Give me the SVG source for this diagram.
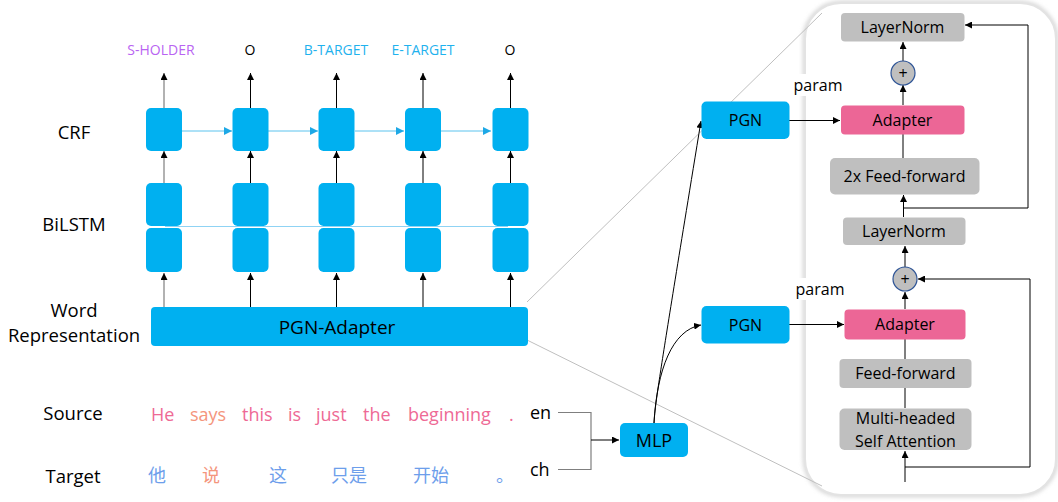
<svg xmlns="http://www.w3.org/2000/svg" width="1058" height="502" viewBox="0 0 1058 502">
<defs>
<marker id="ah" viewBox="0 0 10 10" refX="10" refY="5" markerWidth="7" markerHeight="7" markerUnits="userSpaceOnUse" orient="auto"><path d="M0,0 L10,5 L0,10 z" fill="#000"/></marker>
<marker id="ahg" viewBox="0 0 10 10" refX="10" refY="5" markerWidth="7" markerHeight="7" markerUnits="userSpaceOnUse" orient="auto"><path d="M0,0 L10,5 L0,10 z" fill="#000"/></marker>
<marker id="ahb" viewBox="0 0 10 10" refX="10" refY="5" markerWidth="8" markerHeight="8" markerUnits="userSpaceOnUse" orient="auto"><path d="M0,0 L10,5 L0,10 z" fill="#1DA8E6"/></marker>
<filter id="sh" x="-10%" y="-10%" width="120%" height="120%"><feGaussianBlur stdDeviation="2"/></filter>
</defs>
<style>
text{font-family:"Open Sans","Noto Sans",sans-serif;fill:#000;}
.cell{fill:#00B0F0;}
.gbox{fill:#BFBFBF;}
.pbox{fill:#EC6696;}
.ln{stroke:#000;stroke-width:1;fill:none;}
.zoomln{stroke:#BFBFBF;stroke-width:1;fill:none;}
.lbl{font-size:18.5px;text-anchor:middle;}
.tag{font-size:14px;text-anchor:middle;}
.bx{font-size:16px;text-anchor:middle;}
.w{font-size:18px;}
.cjk{font-family:"Noto Sans CJK SC",sans-serif;}
.pink{fill:#EE6A95;}
.salmon{fill:#F4957C;}
.blue{fill:#6D9EEB;}
</style>

<!-- zoom panel -->
<g id="panel">
<rect x="805" y="3" width="251" height="492" rx="36" fill="none" stroke="#d0d0d0" stroke-width="4" filter="url(#sh)"/>
<rect x="805" y="3" width="251" height="492" rx="36" fill="#fff" stroke="#e3e3e3" stroke-width="2"/>
</g>

<!-- row labels -->
<g id="labels">
<text class="lbl" x="74" y="139">CRF</text>
<text class="lbl" x="74" y="231">BiLSTM</text>
<text class="lbl" x="74" y="317">Word</text>
<text class="lbl" x="74" y="342">Representation</text>
<text class="lbl" x="73" y="420">Source</text>
<text class="lbl" x="73" y="483">Target</text>
</g>

<!-- output tags -->
<g id="tags">
<text class="tag" x="161" y="55" style="fill:#B964F2">S-HOLDER</text>
<text class="tag" x="250" y="55">O</text>
<text class="tag" x="336" y="55" style="fill:#1FB2EE">B-TARGET</text>
<text class="tag" x="423" y="55" style="fill:#1FB2EE">E-TARGET</text>
<text class="tag" x="510" y="55">O</text>
</g>

<g id="connectors">
<!-- zoom lines -->
<line class="zoomln" x1="527" y1="302" x2="822" y2="13"/>
<line class="zoomln" x1="527" y1="340" x2="822" y2="486"/>
<!-- BiLSTM link line -->
<line x1="165" y1="226.5" x2="508" y2="226.5" stroke="#8FD3F4" stroke-width="1"/>
<!-- CRF horizontal -->
<g stroke="#5BC3EE" stroke-width="1" fill="none">
<line x1="182" y1="131" x2="232" y2="131" marker-end="url(#ahb)"/>
<line x1="268" y1="131" x2="318" y2="131" marker-end="url(#ahb)"/>
<line x1="355" y1="131" x2="404" y2="131" marker-end="url(#ahb)"/>
<line x1="441" y1="131" x2="491" y2="131" marker-end="url(#ahb)"/>
</g>
<!-- vertical arrows col 1 (gray) -->
<g stroke="#999" stroke-width="1.5">
<line x1="164" y1="108" x2="164" y2="73" marker-end="url(#ahg)"/>
<line x1="164" y1="183" x2="164" y2="151" marker-end="url(#ahg)"/>
<line x1="164" y1="307" x2="164" y2="273" marker-end="url(#ahg)"/>
</g>
<g class="ln">
<line x1="250.5" y1="108" x2="250.5" y2="73" marker-end="url(#ah)"/>
<line x1="336.5" y1="108" x2="336.5" y2="73" marker-end="url(#ah)"/>
<line x1="423" y1="108" x2="423" y2="73" marker-end="url(#ah)"/>
<line x1="510.5" y1="108" x2="510.5" y2="73" marker-end="url(#ah)"/>
<line x1="250.5" y1="183" x2="250.5" y2="151" marker-end="url(#ah)"/>
<line x1="336.5" y1="183" x2="336.5" y2="151" marker-end="url(#ah)"/>
<line x1="423" y1="183" x2="423" y2="151" marker-end="url(#ah)"/>
<line x1="510.5" y1="183" x2="510.5" y2="151" marker-end="url(#ah)"/>
<line x1="250.5" y1="307" x2="250.5" y2="273" marker-end="url(#ah)"/>
<line x1="336.5" y1="307" x2="336.5" y2="273" marker-end="url(#ah)"/>
<line x1="423" y1="307" x2="423" y2="273" marker-end="url(#ah)"/>
<line x1="510.5" y1="307" x2="510.5" y2="273" marker-end="url(#ah)"/>
</g>
<!-- en/ch bracket -->
<path d="M558,412.5 H591 V469.5 H558" stroke="#7f7f7f" stroke-width="1.2" fill="none"/>
<line class="ln" x1="591" y1="440" x2="619" y2="440" marker-end="url(#ah)"/>
<!-- MLP to PGNs -->
<path class="ln" d="M654,423 C655,405 657,390 701,121" marker-end="url(#ah)"/>
<path class="ln" d="M654,423 C657,370 672,330 701,325" marker-end="url(#ah)"/>
<!-- PGN to Adapter -->
<line class="ln" x1="789" y1="120.5" x2="840" y2="120.5" marker-end="url(#ah)"/>
<line class="ln" x1="789" y1="324.5" x2="844" y2="324.5" marker-end="url(#ah)"/>
<!-- upper transformer block -->
<line class="ln" x1="903" y1="61" x2="903" y2="42" marker-end="url(#ah)"/>
<line class="ln" x1="903" y1="105" x2="903" y2="85" marker-end="url(#ah)"/>
<line class="ln" x1="903" y1="158" x2="903" y2="134"/>
<line class="ln" x1="903.5" y1="217" x2="903.5" y2="195" marker-end="url(#ah)"/>
<path class="ln" d="M903.5,208 H1028 V25 H965" marker-end="url(#ah)"/>
<!-- lower transformer block -->
<line class="ln" x1="905" y1="267" x2="905" y2="246" marker-end="url(#ah)"/>
<line class="ln" x1="905" y1="309" x2="905" y2="292" marker-end="url(#ah)"/>
<line class="ln" x1="905" y1="359" x2="905" y2="339"/>
<line class="ln" x1="905" y1="408" x2="905" y2="388"/>
<line class="ln" x1="905" y1="482" x2="905" y2="451" marker-end="url(#ah)"/>
<path class="ln" d="M905,467 H1030 V279 H918" marker-end="url(#ah)"/>
</g>

<!-- CRF cells -->
<g id="crf">
<rect class="cell" x="146" y="108" width="36" height="43" rx="5"/>
<rect class="cell" x="232.5" y="108" width="36" height="43" rx="5"/>
<rect class="cell" x="318.5" y="108" width="36" height="43" rx="5"/>
<rect class="cell" x="405" y="108" width="36" height="43" rx="5"/>
<rect class="cell" x="492.5" y="108" width="36" height="43" rx="5"/>
</g>
<!-- BiLSTM cells -->
<g id="bilstm">
<rect class="cell" x="146" y="183" width="36" height="43" rx="5"/>
<rect class="cell" x="232.5" y="183" width="36" height="43" rx="5"/>
<rect class="cell" x="318.5" y="183" width="36" height="43" rx="5"/>
<rect class="cell" x="405" y="183" width="36" height="43" rx="5"/>
<rect class="cell" x="492.5" y="183" width="36" height="43" rx="5"/>
<rect class="cell" x="146" y="228" width="36" height="44" rx="5"/>
<rect class="cell" x="232.5" y="228" width="36" height="44" rx="5"/>
<rect class="cell" x="318.5" y="228" width="36" height="44" rx="5"/>
<rect class="cell" x="405" y="228" width="36" height="44" rx="5"/>
<rect class="cell" x="492.5" y="228" width="36" height="44" rx="5"/>
</g>
<!-- PGN-Adapter bar -->
<g id="pgn-adapter">
<rect class="cell" x="151" y="307" width="377" height="39" rx="4"/>
<text x="337" y="333.5" font-size="19" text-anchor="middle">PGN-Adapter</text>
</g>

<!-- sentences -->
<g id="source">
<text x="151" y="421" class="w pink">He</text>
<text x="190" y="421" class="w salmon">says</text>
<text x="242" y="421" class="w pink">this</text>
<text x="288" y="421" class="w pink">is</text>
<text x="316" y="421" class="w pink">just</text>
<text x="363" y="421" class="w pink">the</text>
<text x="408" y="421" class="w pink">beginning</text>
<text x="509" y="421" class="w pink">.</text>
<text x="530" y="419" class="w">en</text>
</g>
<g id="target">
<text x="148" y="482" class="w cjk blue">他</text>
<text x="202" y="482" class="w cjk salmon">说</text>
<text x="269" y="482" class="w cjk blue">这</text>
<text x="331" y="482" class="w cjk blue">只是</text>
<text x="413" y="482" class="w cjk blue">开始</text>
<text x="496" y="482" class="w cjk blue">。</text>
<text x="530" y="476" class="w">ch</text>
</g>

<g id="mlp">
<rect class="cell" x="620" y="423" width="68" height="34" rx="5"/>
<text x="654" y="447" font-size="18" text-anchor="middle">MLP</text>
</g>
<g id="pgn1">
<rect class="cell" x="701.5" y="101.5" width="88" height="37.5" rx="5"/>
<text class="bx" x="745.5" y="126">PGN</text>
</g>
<g id="pgn2">
<rect class="cell" x="701.5" y="306" width="88" height="37.5" rx="5"/>
<text class="bx" x="745.5" y="330.5">PGN</text>
</g>

<!-- param labels -->
<g id="param1"><rect x="792" y="74" width="54" height="22" fill="#fff"/><text class="bx" x="818" y="91">param</text></g>
<g id="param2"><rect x="794" y="278" width="54" height="22" fill="#fff"/><text class="bx" x="820" y="295">param</text></g>

<!-- upper block -->
<g id="layernorm1"><rect class="gbox" x="841" y="13" width="123.5" height="28.5" rx="4"/><text class="bx" x="902.5" y="33">LayerNorm</text></g>
<g id="plus1"><circle cx="903" cy="73" r="12" fill="#BFBFBF" stroke="#2F5597" stroke-width="1.2"/><text x="903" y="78.5" font-size="16" text-anchor="middle">+</text></g>
<g id="adapter1"><rect class="pbox" x="841" y="105.5" width="123.5" height="29" rx="4"/><text class="bx" x="902.5" y="125.5">Adapter</text></g>
<g id="ff2x"><rect class="gbox" x="830" y="158" width="149.5" height="36.5" rx="5"/><text class="bx" x="904.5" y="182">2x Feed-forward</text></g>
<g id="layernorm2"><rect class="gbox" x="843" y="217.5" width="122.5" height="27.5" rx="4"/><text class="bx" x="904" y="237">LayerNorm</text></g>

<!-- lower block -->
<g id="plus2"><circle cx="905" cy="279" r="12" fill="#BFBFBF" stroke="#2F5597" stroke-width="1.2"/><text x="905" y="284.5" font-size="16" text-anchor="middle">+</text></g>
<g id="adapter2"><rect class="pbox" x="844.5" y="309.5" width="121" height="30" rx="4"/><text class="bx" x="905" y="330">Adapter</text></g>
<g id="ff"><rect class="gbox" x="839.5" y="359" width="132" height="29" rx="4"/><text class="bx" x="905.5" y="379">Feed-forward</text></g>
<g id="mhsa"><rect class="gbox" x="839.5" y="408.5" width="132" height="41.5" rx="5"/><text class="bx" x="905.5" y="424">Multi-headed</text><text class="bx" x="905.5" y="447">Self Attention</text></g>
</svg>
